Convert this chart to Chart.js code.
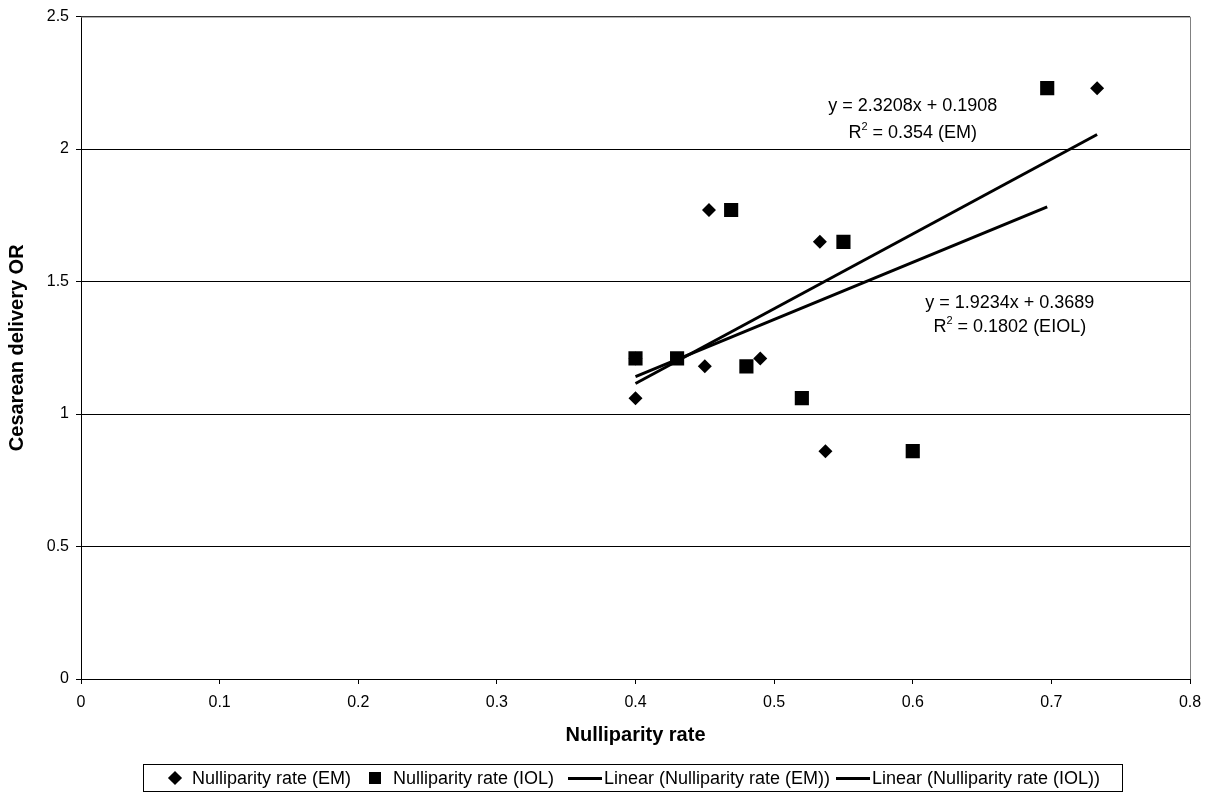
<!DOCTYPE html>
<html>
<head>
<meta charset="utf-8">
<script src="https://cdn.jsdelivr.net/npm/chart.js@4.4.1/dist/chart.umd.min.js"></script>
<style>
  body { margin: 0; background: #fff; font-family: "Liberation Sans", Arial, sans-serif; }
  #wrap { position: relative; width: 1216px; height: 800px; }
  #legend {
    position: absolute; left: 143px; top: 764px; width: 978px; height: 26px;
    border: 1px solid #000; display: flex; align-items: center; justify-content: center;
    font-size: 18px; color: #000; white-space: nowrap;
  }
  .it { display: flex; align-items: center; margin-right: 14px; }
  .it:last-child { margin-right: 0; }
  .dia { width: 10px; height: 10px; background: #000; transform: rotate(45deg); margin: 0 12px 0 4px; }
  .sq { width: 12px; height: 12px; background: #000; margin: 0 12px 0 4px; }
  .ln { width: 34px; height: 3px; background: #000; margin-right: 2px; }
</style>
</head>
<body>
<div id="wrap">
  <canvas id="chart" width="1216" height="800"></canvas>
  <div id="legend">
    <div class="it"><span class="dia"></span>Nulliparity rate (EM)</div>
    <div class="it"><span class="sq"></span>Nulliparity rate (IOL)</div>
    <div class="it" style="margin-right:6px"><span class="ln"></span>Linear (Nulliparity rate (EM))</div>
    <div class="it"><span class="ln"></span>Linear (Nulliparity rate (IOL))</div>
  </div>
</div>
<script>
// nulliparity rate vs cesarean delivery OR, one point per study
const emX  = [0.400, 0.400, 0.450, 0.453, 0.490, 0.533, 0.537, 0.733];
const emY  = [1.06, 1.21, 1.18, 1.77, 1.21, 1.65, 0.86, 2.23];
const iolX = [0.400, 0.430, 0.469, 0.480, 0.520, 0.550, 0.600, 0.697];
const iolY = [1.21, 1.21, 1.77, 1.18, 1.06, 1.65, 0.86, 2.23];

const xTicks = [0, 0.1, 0.2, 0.3, 0.4, 0.5, 0.6, 0.7, 0.8];
const yTicks = [0, 0.5, 1, 1.5, 2, 2.5];

// trendline labels as printed on the chart
const eqEM  = ['y = 2.3208x + 0.1908', ' = 0.354 (EM)'];
const eqIOL = ['y = 1.9234x + 0.3689', ' = 0.1802 (EIOL)'];

/*helper: pair up x and y lists*/
function toPoints(xs, ys) {
    return xs.map((x, i) => ({x: x, y: ys[i]}));
}

/*least squares line over the range of the data (like an excel trendline)*/
function trend(xs, ys) {
    const n = xs.length;
    const mx = xs.reduce((a, b) => a + b, 0) / n;
    const my = ys.reduce((a, b) => a + b, 0) / n;
    let sxy = 0, sxx = 0;
    for (let i = 0; i < n; i++) {
        sxy += (xs[i] - mx) * (ys[i] - my);
        sxx += (xs[i] - mx) * (xs[i] - mx);
    }
    const b = sxy / sxx;
    const a = my - b * mx;
    const lo = Math.min(...xs), hi = Math.max(...xs);
    return [{x: lo, y: a + b * lo}, {x: hi, y: a + b * hi}];
}

const FONT = '"Liberation Sans", Arial, sans-serif';

/*draws "R" + superscript 2 + rest, centred on cx*/
function drawR2(ctx, rest, cx, cy) {
    const big = '18px ' + FONT, small = '11px ' + FONT;
    ctx.font = big;
    const wR = ctx.measureText('R').width, wRest = ctx.measureText(rest).width;
    ctx.font = small;
    const w2 = ctx.measureText('2').width;
    let x = cx - (wR + w2 + wRest) / 2;
    ctx.textAlign = 'left';
    ctx.font = big;
    ctx.fillText('R', x, cy);
    ctx.font = small;
    ctx.fillText('2', x + wR, cy - 6);
    ctx.font = big;
    ctx.fillText(rest, x + wR + w2, cy);
}

// equation text + gray plot frame
const extras = {
    id: 'extras',
    afterDraw(chart) {
        const {ctx, chartArea, scales} = chart;
        ctx.save();
        ctx.strokeStyle = '#808080';
        ctx.lineWidth = 1;
        ctx.beginPath();
        ctx.moveTo(chartArea.left, chartArea.top + 0.5);
        ctx.lineTo(chartArea.right + 0.5, chartArea.top + 0.5);
        ctx.lineTo(chartArea.right + 0.5, chartArea.bottom);
        ctx.stroke();

        ctx.fillStyle = '#000';
        ctx.font = '18px ' + FONT;
        ctx.textAlign = 'center';
        ctx.textBaseline = 'middle';
        const cx1 = scales.x.getPixelForValue(0.600);
        ctx.fillText(eqEM[0], cx1, scales.y.getPixelForValue(2.163));
        drawR2(ctx, eqEM[1], cx1, scales.y.getPixelForValue(2.062));
        const cx2 = scales.x.getPixelForValue(0.670);
        ctx.textAlign = 'center';
        ctx.fillText(eqIOL[0], cx2, scales.y.getPixelForValue(1.420));
        drawR2(ctx, eqIOL[1], cx2, scales.y.getPixelForValue(1.327));
        ctx.restore();
    }
};

new Chart(document.getElementById('chart'), {
    type: 'scatter',
    data: {
        datasets: [{
            label: 'Nulliparity rate (EM)',
            data: toPoints(emX, emY),
            pointStyle: 'rectRot',
            pointRadius: 7,
            backgroundColor: '#000',
            borderColor: '#000',
            borderWidth: 0,
            order: 2
        },
        {
            label: 'Nulliparity rate (IOL)',
            data: toPoints(iolX, iolY),
            pointStyle: 'rect',
            pointRadius: 10,
            backgroundColor: '#000',
            borderColor: '#000',
            borderWidth: 0,
            order: 1
        },
        {
            label: 'Linear (Nulliparity rate (EM))',
            data: trend(emX, emY),
            showLine: true,
            pointRadius: 0,
            borderColor: '#000',
            borderWidth: 3,
            order: 3
        },
        {
            label: 'Linear (Nulliparity rate (IOL))',
            data: trend(iolX, iolY),
            showLine: true,
            pointRadius: 0,
            borderColor: '#000',
            borderWidth: 3,
            order: 4
        }]
    },
    options: {
        responsive: false,
        animation: false,
        devicePixelRatio: 1,
        layout: { padding: { left: 0, right: 26, top: 12, bottom: 53 } },
        scales: {
            x: {
                type: 'linear',
                min: 0,
                max: 0.8,
                afterFit: (s) => { s.height = 68; },
                afterBuildTicks: (s) => { s.ticks = xTicks.map(v => ({value: v})); },
                ticks: { color: '#000', padding: 9, font: { family: FONT, size: 16 },
                         callback: (v) => String(+v.toFixed(2)) },
                grid: { drawOnChartArea: false, color: '#000', tickLength: 5 },
                border: { color: '#000', width: 1 },
                title: {
                    display: true, text: 'Nulliparity rate', color: '#000',
                    padding: { top: 0, bottom: 0 },
                    font: { family: FONT, size: 20, weight: 'bold', lineHeight: 1.2 }
                }
            },
            y: {
                type: 'linear',
                min: 0,
                max: 2.5,
                afterFit: (s) => { s.width = 81; },
                afterBuildTicks: (s) => { s.ticks = yTicks.map(v => ({value: v})); },
                ticks: { color: '#000', padding: 7, font: { family: FONT, size: 16 },
                         callback: (v) => String(+v.toFixed(2)) },
                grid: { color: '#000', tickLength: 5 },
                border: { color: '#000', width: 1 },
                title: {
                    display: true, text: 'Cesarean delivery OR', color: '#000',
                    padding: { top: 5, bottom: 0 },
                    font: { family: FONT, size: 20, weight: 'bold', lineHeight: 1.2 }
                }
            }
        },
        plugins: {
            legend: { display: false },
            tooltip: { enabled: false }
        }
    },
    plugins: [extras]
});
</script>
</body>
</html>
